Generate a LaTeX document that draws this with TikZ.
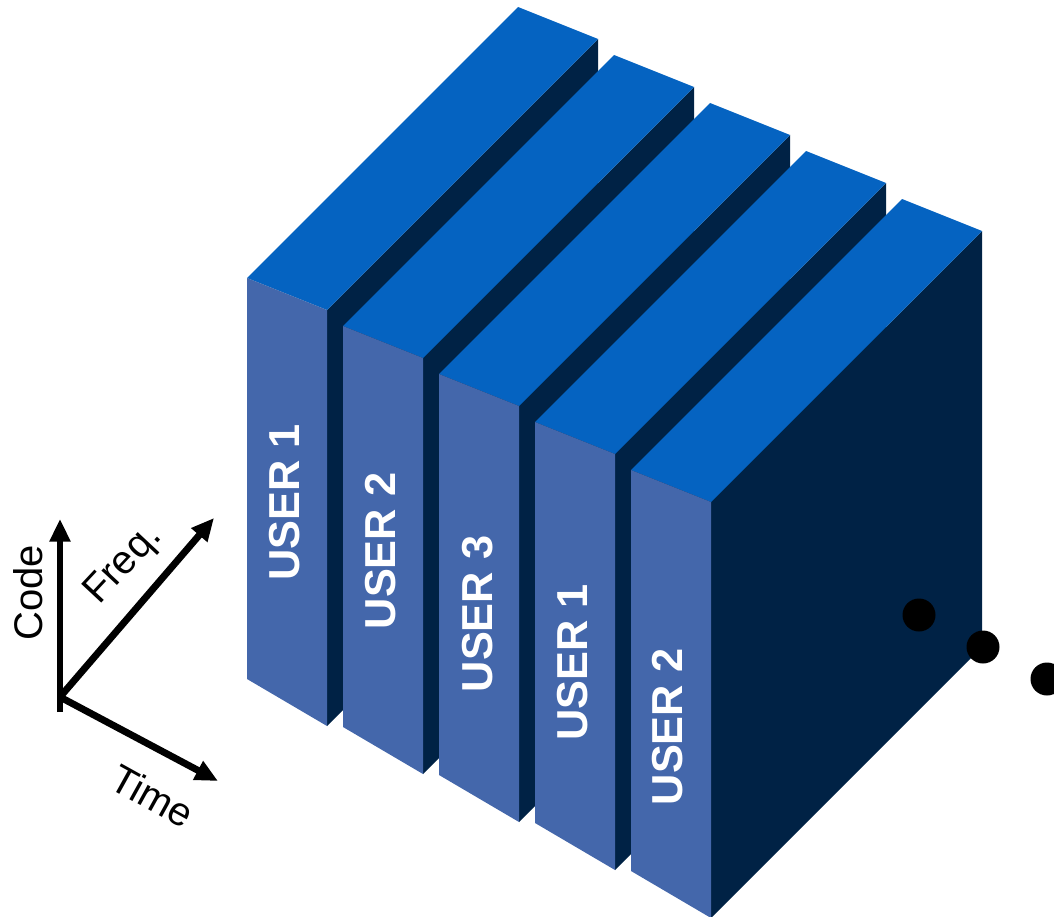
\documentclass[tikz,border=0pt]{standalone}
\usepackage{fontspec}
\setmainfont{Liberation Sans}
\usetikzlibrary{arrows.meta}
\definecolor{frontc}{RGB}{68,103,171}
\definecolor{topc}{RGB}{5,99,193}
\definecolor{sidec}{RGB}{0,34,69}
\tikzset{
  usertext/.style={text=white, font=\fontsize{32.5}{38}\selectfont\bfseries, rotate=90, inner sep=0pt, anchor=center},
  axislabel/.style={font=\fontsize{30}{36}\selectfont, inner sep=0pt, anchor=center},
  axisarrow/.style={line width=5.2pt, -{Triangle[length=17pt,width=15pt]}},
  dotc/.style={fill=black}
}
\begin{document}
\begin{tikzpicture}[x=0.75pt,y=-0.75pt]
\useasboundingbox (0,0) rectangle (1054,917);
\foreach \i in {0,...,4}{
  \begin{scope}[shift={(96*\i,48*\i)}]
    \fill[sidec] (327,310) -- (598,39) -- (598,455) -- (327,726) -- cycle;
    \fill[topc] (247,278) -- (518,7) -- (598,39) -- (327,310) -- cycle;
    \fill[frontc] (247,278) -- (327,310) -- (327,726) -- (247,679) -- cycle;
  \end{scope}
}
\node[usertext] (u1) at (285,502.5) {USER 1};
\node[usertext] (u2) at (380.5,551) {USER 2};
\node[usertext] (u3) at (477.5,614) {USER 3};
\node[usertext] (u4) at (573,662.5) {USER 1};
\node[usertext] (u5) at (668,727) {USER 2};
% axes
\coordinate (o) at (60,697);
\coordinate (ob) at (60,712);
\coordinate (code) at (60,519);
\coordinate (freq) at (214,518);
\coordinate (time) at (218,781);
\draw[axisarrow] (ob) -- (code);
\draw[axisarrow] (o) -- (freq);
\draw[axisarrow] (o) -- (time);
\node[axislabel, rotate=90] (lc) at (28,593) {Code};
\node[axislabel, rotate=47] (lf) at (124,565) {Freq.};
\node[axislabel, rotate=-29] (lt) at (153,796) {Time};
% dots
\fill[dotc] (919,615) circle (16.5) coordinate (d1);
\fill[dotc] (983,647) circle (16.5) coordinate (d2);
\fill[dotc] (1047,679) circle (16.5) coordinate (d3);
\end{tikzpicture}
\end{document}
